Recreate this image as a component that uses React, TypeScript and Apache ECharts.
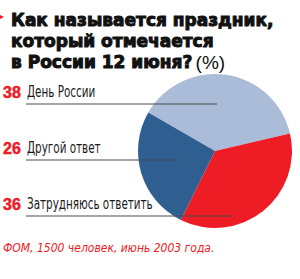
import React, { useEffect, useRef } from "react";
import * as echarts from "echarts";

const titleLines = ["Как называется праздник,", "который отмечается", "в России 12 июня?"];
const titleUnit = "(%)";
const categories = ["День России", "Затрудняюсь ответить", "Другой ответ"];
const values = [38, 36, 26];
const colors = ["#AABCD8", "#EE1C25", "#2F5E91"];
const legendOrder = [0, 2, 1];
const source = "ФОМ, 1500 человек, июнь 2003 года.";

const narrow = "'DejaVu Sans Condensed', Roboto, sans-serif";

export default function App() {
  const ref = useRef<HTMLDivElement>(null);
  useEffect(() => {
    if (!ref.current) return;
    const chart = echarts.init(ref.current, null, { renderer: "svg" });
    const cx = 215, cy = 151, r = 77;
    const rowY = [92, 148, 204];
    const lineEnd = [217, 176, 232];
    const graphics: any[] = [];
    graphics.push({
      type: "polygon",
      shape: { points: [[0, 15], [4, 17], [0, 19]] },
      style: { fill: "#EE1C25" },
    });
    titleLines.forEach((t, i) => {
      const isLast = i === titleLines.length - 1;
      graphics.push({
        type: "text",
        x: 11,
        y: 20 + i * 21,
        style: {
          text: isLast ? `{b|${t}} {n|${titleUnit}}` : `{b|${t}}`,
          verticalAlign: "middle",
          align: "left",
          rich: {
            b: {
              fontFamily: "DejaVu Sans",
              fontWeight: "bold",
              fontSize: 17,
              fill: "#111",
              stroke: "#111",
              lineWidth: 1,
            },
            n: { fontFamily: "Liberation Sans", fontWeight: "normal", fontSize: 19, fill: "#111" },
          },
        },
      });
    });
    legendOrder.forEach((idx, row) => {
      const y = rowY[row];
      graphics.push({
        type: "text",
        x: 3,
        y,
        style: {
          text: String(values[idx]),
          fontFamily: "Liberation Sans",
          fontWeight: "bold",
          fontSize: 16,
          fill: "#EE1C25",
          stroke: "#EE1C25",
          lineWidth: 0.5,
          verticalAlign: "middle",
        },
      });
      graphics.push({
        type: "text",
        x: 27,
        y,
        scaleX: 0.77,
        style: {
          text: categories[idx],
          fontFamily: narrow,
          fontSize: 15,
          fill: "#1a1a1a",
          verticalAlign: "middle",
        },
      });
      graphics.push({
        type: "line",
        z: 100,
        shape: { x1: 26, y1: y + 12, x2: lineEnd[row], y2: y + 12 },
        style: { stroke: "#4a4a4a", lineWidth: 1 },
      });
    });
    graphics.push({
      type: "text",
      x: 3,
      y: 248,
      style: {
        text: source,
        fontFamily: narrow,
        fontStyle: "italic",
        fontSize: 12,
        fill: "#EE1C25",
        verticalAlign: "middle",
      },
    });
    chart.setOption({
      animation: false,
      series: [
        {
          type: "pie",
          center: [cx, cy],
          radius: r,
          startAngle: 150,
          clockwise: true,
          label: { show: false },
          labelLine: { show: false },
          silent: true,
          itemStyle: { borderWidth: 0 },
          data: categories.map((c, i) => ({ name: c, value: values[i], itemStyle: { color: colors[i] } })),
          z: 1,
        },
      ],
      graphic: { elements: graphics.map((g) => ({ ...g, z: g.z ?? 10 })) },
    });
    return () => chart.dispose();
  }, []);
  return <div ref={ref} style={{ position: "absolute", left: 0, top: 0, width: 300, height: 279, background: "#fff" }} />;
}
